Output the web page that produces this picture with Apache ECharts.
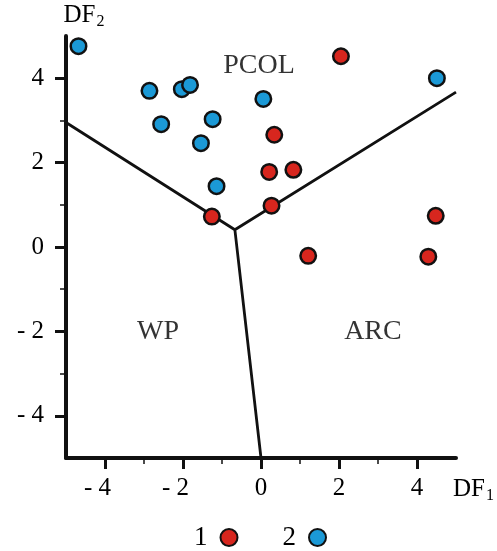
<!DOCTYPE html>
<html>
<head>
<meta charset="utf-8">
<script src="https://cdn.jsdelivr.net/npm/echarts@6/dist/echarts.min.js"></script>
<style>html,body{margin:0;padding:0;background:#fff;}#c{width:497px;height:551px;}</style>
</head>
<body>
<div id="c"></div>
<script>
// Group 1 (red) points [DF1, DF2]
var group1 = [
  [-1.26, 0.72], [2.05, 4.52], [0.34, 2.66], [0.21, 1.78], [0.83, 1.83],
  [0.27, 0.98], [4.48, 0.74], [1.21, -0.21], [4.29, -0.23]
];
// Group 2 (blue) points [DF1, DF2]
var group2 = [
  [-4.68, 4.76], [-2.86, 3.70], [-2.03, 3.74], [-1.82, 3.84], [-2.56, 2.91],
  [-1.24, 3.03], [-1.54, 2.46], [-1.14, 1.44], [0.06, 3.51], [4.51, 4.00]
];
// Discriminant field boundaries (from junction outward)
var junction = [-0.67, 0.41];
var boundaryEnds = [[-5, 2.95], [5, 3.67], [0, -5]];
// Field names and their anchor positions
var fieldNames = ['PCOL', 'WP', 'ARC'];
var fieldAnchors = [[-0.05, 4.30], [-2.64, -2.01], [2.87, -2.01]];
// Axis ticks
var majorTicks = [-4, -2, 0, 2, 4];
var minorTicks = [-3, -1, 1, 3];
var seriesNames = ['1', '2'];

var FONT = 'Liberation Serif';
var INK = '#111';
var TXT = '#000';
function fmtX(v) { return v < 0 ? '{n|- ' + Math.abs(v) + '}' : '{p|' + v + '}'; }
function fmtY(v) { return v < 0 ? '- ' + Math.abs(v) : String(v); }

var boundaryData = [];
boundaryEnds.forEach(function (e, i) {
  if (i > 0) boundaryData.push([null, null]);
  boundaryData.push(junction.slice());
  boundaryData.push(e.slice());
});

var grid = { left: 66, top: 36, width: 390, height: 422 };
var nameRich = {
  m: { fontFamily: FONT, fontSize: 25, color: TXT },
  s: { fontFamily: FONT, fontSize: 16, color: TXT, padding: [14, 0, 0, 1] }
};

function mainAxis(isX) {
  return {
    type: 'value', min: -5, max: 5, interval: 1,
    position: isX ? 'bottom' : 'left',
    axisLine: { show: true, onZero: false, lineStyle: { color: INK, width: 4 } },
    axisTick: { show: true, customValues: majorTicks, length: 11, lineStyle: { color: INK, width: 3 } },
    axisLabel: isX ? {
      show: true, customValues: majorTicks, formatter: fmtX, margin: 18,
      rich: {
        n: { fontFamily: FONT, fontSize: 25, color: TXT, padding: [0, 15, 0, 0] },
        p: { fontFamily: FONT, fontSize: 25, color: TXT }
      }
    } : {
      show: true, customValues: majorTicks, formatter: fmtY, margin: 22,
      fontFamily: FONT, fontSize: 25, color: TXT
    },
    splitLine: { show: false },
    name: isX ? '{m|DF}{s|1}' : '{m|DF}{s|2}',
    nameLocation: 'end',
    nameGap: isX ? -3 : 6,
    nameTextStyle: isX ? {
      verticalAlign: 'top', padding: [16, 0, 0, 0], rich: nameRich
    } : {
      padding: [0, 0, 0, 36], rich: nameRich
    }
  };
}
function minorAxis(isX) {
  return {
    type: 'value', min: -5, max: 5, interval: 1,
    position: isX ? 'bottom' : 'left',
    axisLine: { show: false, onZero: false },
    axisTick: { show: true, customValues: minorTicks, length: 6, lineStyle: { color: INK, width: 1.5 } },
    axisLabel: { show: false },
    splitLine: { show: false }
  };
}

var option = {
  animation: false,
  backgroundColor: '#fff',
  grid: grid,
  xAxis: [mainAxis(true), minorAxis(true)],
  yAxis: [mainAxis(false), minorAxis(false)],
  legend: {
    data: seriesNames,
    left: 189, top: 519,
    align: 'right',
    itemWidth: 17, itemHeight: 17, itemGap: 44,
    textStyle: { fontFamily: FONT, fontSize: 27, color: TXT, padding: [0, 8, 0, 0] }
  },
  series: [
    {
      type: 'line', data: boundaryData, connectNulls: false, symbol: 'none',
      lineStyle: { color: INK, width: 2.8 }, z: 1, silent: true
    },
    {
      type: 'scatter', data: fieldAnchors.map(function (p, i) { return { value: p, name: fieldNames[i] }; }),
      symbolSize: 0,
      label: { show: true, position: 'inside', formatter: '{b}', fontFamily: FONT, fontSize: 28, color: TXT },
      z: 1, silent: true
    },
    {
      name: seriesNames[0], type: 'scatter', data: group1, symbol: 'circle', symbolSize: 15.5,
      itemStyle: { color: '#d7261e', borderColor: INK, borderWidth: 2.5, opacity: 1 }, z: 3
    },
    {
      name: seriesNames[1], type: 'scatter', data: group2, symbol: 'circle', symbolSize: 15.5,
      itemStyle: { color: '#1b99d6', borderColor: INK, borderWidth: 2.5, opacity: 1 }, z: 3
    }
  ]
};
var chart = echarts.init(document.getElementById('c'), null, { renderer: 'canvas' });
chart.setOption(option);
</script>
</body>
</html>
